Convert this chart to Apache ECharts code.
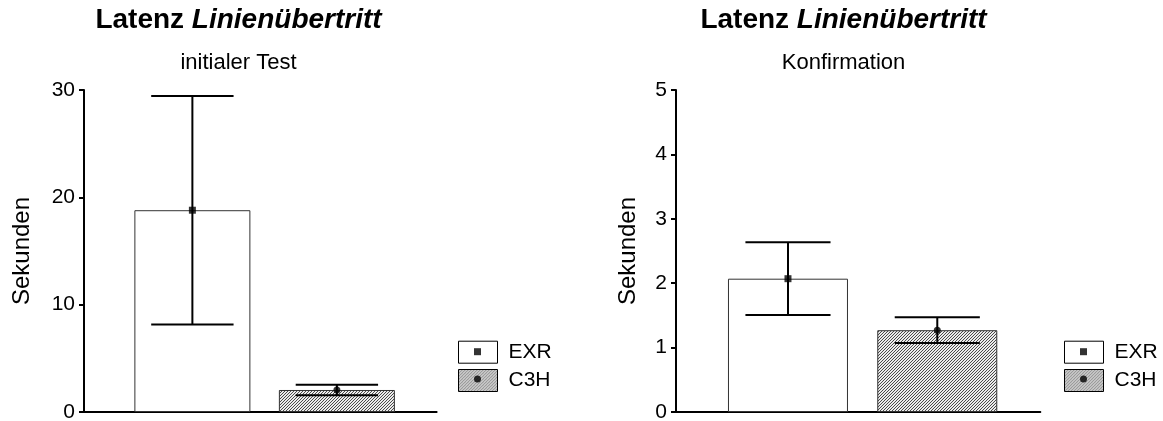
<!DOCTYPE html>
<html>
<head>
<meta charset="utf-8">
<script src="https://cdn.jsdelivr.net/npm/echarts@6/dist/echarts.min.js"></script>
<style>html,body{margin:0;padding:0;background:#fff;}#c{width:1163px;height:421px;}</style>
</head>
<body>
<div id="c"></div>
<script>
// ---- data ----
const categories = ['EXR', 'C3H'];
const mainTitle = 'Latenz';
const mainTitleItalic = 'Linienübertritt';
const subTitles = ['initialer Test', 'Konfirmation'];
const yAxisName = 'Sekunden';
const initialMean = [18.8, 2.05];
const initialSD = [10.64, 0.5];
const confirmMean = [2.07, 1.27];
const confirmSD = [0.565, 0.2];
const yMax = [30, 5];
const yInterval = [10, 1];

// ---- styling ----
const FONT = 'Liberation Sans, Arial, Helvetica, sans-serif';
function hatch() {
  const c = document.createElement('canvas');
  c.width = 6; c.height = 6;
  const ctx = c.getContext('2d');
  ctx.fillStyle = '#ececec'; ctx.fillRect(0, 0, 6, 6);
  ctx.fillStyle = '#4a4a4a';
  for (let x = 0; x < 6; x++) for (let y = 0; y < 6; y++) if ((x + y) % 3 === 0) ctx.fillRect(x, y, 1, 1);
  return c;
}
const hatchFill = { image: hatch(), repeat: 'repeat' };
const barFills = ['#ffffff', hatchFill];
const markerSymbols = ['rect', 'circle'];

const panels = [
  { mean: initialMean, sd: initialSD, left: 84, width: 352.6, barW: 116, nameGap: 50, titleX: 238.5 },
  { mean: confirmMean, sd: confirmSD, left: 676, width: 364.3, barW: 120, nameGap: 36, titleX: 843.5 }
];
const legendLeft = [458, 1064];

const option = {
  animation: false,
  backgroundColor: '#fff',
  textStyle: { fontFamily: FONT, color: '#000' },
  title: [],
  grid: [], xAxis: [], yAxis: [], series: [], legend: []
};

panels.forEach((p, g) => {
  option.title.push({
    text: mainTitle + ' {i|' + mainTitleItalic + '}',
    left: p.titleX, top: 6, textAlign: 'center', padding: 0,
    textStyle: { fontFamily: FONT, fontSize: 28, fontWeight: 'bold', color: '#000',
      rich: { i: { fontFamily: FONT, fontSize: 28, fontWeight: 'bold', fontStyle: 'italic', color: '#000' } } }
  });
  option.title.push({
    text: subTitles[g], left: p.titleX, top: 52, textAlign: 'center', padding: 0,
    textStyle: { fontFamily: FONT, fontSize: 22, fontWeight: 'normal', color: '#000' }
  });
  option.grid.push({ left: p.left, top: 90, width: p.width, height: 322, outerBoundsMode: 'none', containLabel: false });
  option.xAxis.push({
    type: 'value', gridIndex: g, min: 0.25, max: 2.69,
    axisLine: { show: true, onZero: false, lineStyle: { color: '#000', width: 2 } },
    axisTick: { show: false }, axisLabel: { show: false }, splitLine: { show: false }
  });
  option.yAxis.push({
    type: 'value', gridIndex: g, min: 0, max: yMax[g], interval: yInterval[g],
    name: yAxisName, nameLocation: 'middle', nameGap: p.nameGap, nameRotate: 90,
    nameTextStyle: { fontFamily: FONT, fontSize: 24, color: '#000' },
    axisLine: { show: true, onZero: false, lineStyle: { color: '#000', width: 2 } },
    axisTick: { show: true, length: 5, lineStyle: { color: '#000', width: 2 } },
    axisLabel: { fontFamily: FONT, fontSize: 21, color: '#000', margin: 9 },
    splitLine: { show: false }
  });
  categories.forEach((cat, i) => {
    option.series.push({
      type: 'bar', name: cat, xAxisIndex: g, yAxisIndex: g,
      data: [[i + 1, p.mean[i]]], barWidth: p.barW, barGap: '-100%',
      itemStyle: { color: barFills[i], borderColor: '#333', borderWidth: 1 }, z: 2
    });
  });
  option.series.push({
    type: 'custom', name: 'err', xAxisIndex: g, yAxisIndex: g, z: 3,
    encode: { x: 0, y: [1, 2] },
    data: p.mean.map((m, i) => [i + 1, m - p.sd[i], m + p.sd[i]]),
    renderItem: function (params, api) {
      const x = api.value(0);
      const lo = api.coord([x, api.value(1)]);
      const hi = api.coord([x, api.value(2)]);
      const hw = api.size([0.57, 0])[0] / 2;
      const st = { stroke: '#000', lineWidth: 2 };
      return { type: 'group', children: [
        { type: 'line', shape: { x1: lo[0], y1: lo[1], x2: hi[0], y2: hi[1] }, style: st },
        { type: 'line', shape: { x1: lo[0] - hw, y1: lo[1], x2: lo[0] + hw, y2: lo[1] }, style: st },
        { type: 'line', shape: { x1: hi[0] - hw, y1: hi[1], x2: hi[0] + hw, y2: hi[1] }, style: st }
      ] };
    }
  });
  categories.forEach((cat, i) => {
    option.series.push({
      type: 'scatter', name: cat + ' Mittelwert', xAxisIndex: g, yAxisIndex: g, z: 4,
      data: [[i + 1, p.mean[i]]], symbol: markerSymbols[i], symbolSize: 7,
      itemStyle: { color: '#000' }
    });
  });
  option.legend.push({
    orient: 'vertical', left: legendLeft[g], top: 340.7, padding: 0, itemGap: 5.3,
    itemWidth: 39, itemHeight: 22, selectedMode: false,
    data: categories.map(c => ({ name: c, icon: 'rect' })),
    itemStyle: { borderColor: '#000', borderWidth: 1 },
    textStyle: { fontFamily: FONT, fontSize: 21, lineHeight: 22, color: '#000', padding: [0, 0, 0, 6] }
  });
  option.legend.push({
    orient: 'vertical', left: legendLeft[g] + 16, top: 348.2, padding: 0, itemGap: 20.3,
    itemWidth: 7, itemHeight: 7, selectedMode: false,
    data: categories.map((c, i) => ({ name: c + ' Mittelwert', icon: markerSymbols[i] })),
    formatter: function () { return ''; },
    textStyle: { fontFamily: FONT, fontSize: 21, lineHeight: 22, color: '#000' }
  });
});

const chart = echarts.init(document.getElementById('c'), null, { renderer: 'canvas' });
chart.setOption(option);
</script>
</body>
</html>
